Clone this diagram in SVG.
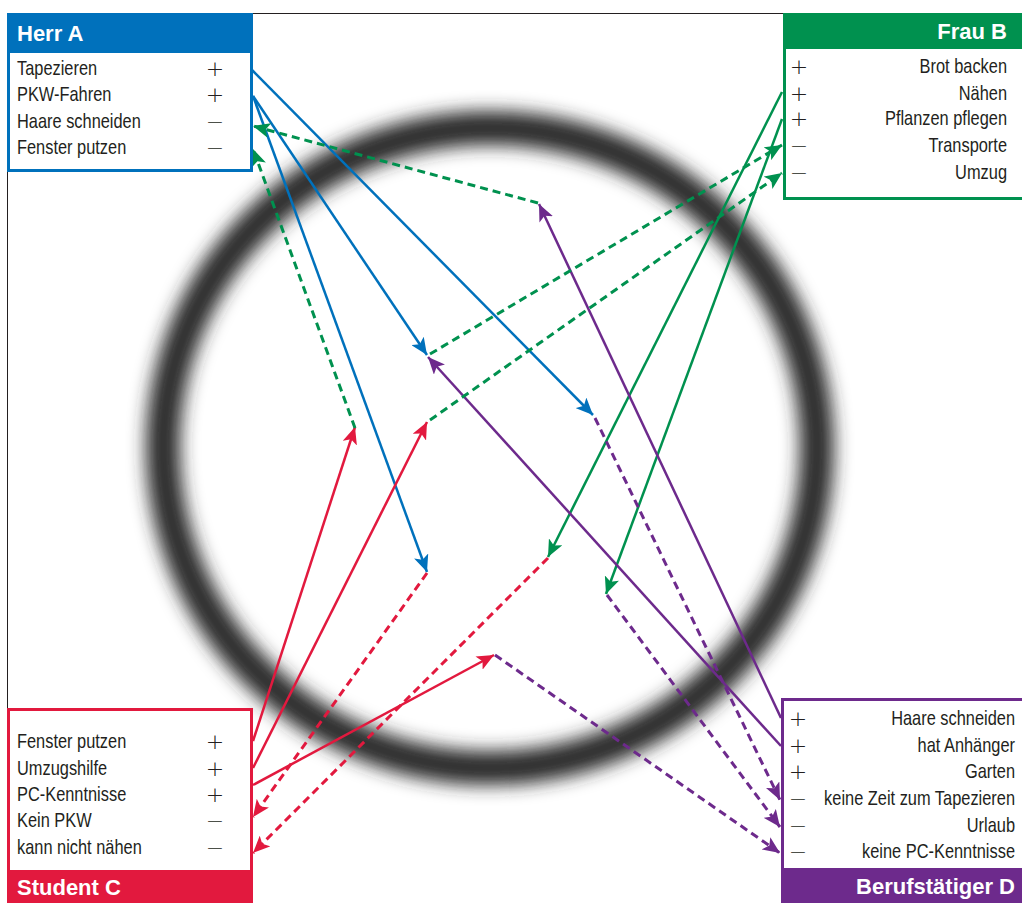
<svg xmlns="http://www.w3.org/2000/svg" width="1022" height="903" viewBox="0 0 1022 903">
<style>
.t{font-family:"Liberation Sans",Arial,sans-serif;font-size:20px;fill:#231f20}
.r{text-anchor:end}
.pm{text-anchor:middle;font-size:22px;font-family:"DejaVu Sans","Liberation Sans",sans-serif;font-weight:200;fill:#231f20}
.h{font-family:"Liberation Sans",Arial,sans-serif;font-size:22px;font-weight:bold;fill:#fff}
.s{fill:none;stroke-width:2.5}
.d{fill:none;stroke-width:3;stroke-dasharray:8 5}
.blue{stroke:#0071bc}.green{stroke:#00914f}.red{stroke:#e2193e}.purple{stroke:#6d2a8c}
</style>
<defs>
<filter id="blur" x="-20%" y="-20%" width="140%" height="140%"><feGaussianBlur stdDeviation="9"/></filter>
<marker id="aB" markerUnits="userSpaceOnUse" markerWidth="18" markerHeight="15" refX="17" refY="7.5" orient="auto"><path d="M0,0 L17,7.5 L0,15 L4,7.5 z" fill="#0071bc"/></marker>
<marker id="aG" markerUnits="userSpaceOnUse" markerWidth="18" markerHeight="15" refX="17" refY="7.5" orient="auto"><path d="M0,0 L17,7.5 L0,15 L4,7.5 z" fill="#00914f"/></marker>
<marker id="aR" markerUnits="userSpaceOnUse" markerWidth="18" markerHeight="15" refX="17" refY="7.5" orient="auto"><path d="M0,0 L17,7.5 L0,15 L4,7.5 z" fill="#e2193e"/></marker>
<marker id="aP" markerUnits="userSpaceOnUse" markerWidth="18" markerHeight="15" refX="17" refY="7.5" orient="auto"><path d="M0,0 L17,7.5 L0,15 L4,7.5 z" fill="#6d2a8c"/></marker>
</defs>
<rect width="1022" height="903" fill="#fff"/>
<rect x="7.5" y="13.5" width="1020" height="900" fill="none" stroke="#231f20" stroke-width="1"/>
<ellipse cx="490" cy="448" rx="327" ry="320" fill="none" stroke="#2a2a2a" stroke-width="34" filter="url(#blur)"/>

<g id="connectors">
<line class="s blue" x1="252" y1="70" x2="593" y2="415" marker-end="url(#aB)"/>
<line class="s blue" x1="253" y1="96" x2="427" y2="355" marker-end="url(#aB)"/>
<line class="s blue" x1="253" y1="96" x2="427" y2="572" marker-end="url(#aB)"/>
<line class="s green" x1="782" y1="92" x2="548" y2="557" marker-end="url(#aG)"/>
<line class="s green" x1="782" y1="119" x2="606" y2="594" marker-end="url(#aG)"/>
<line class="s purple" x1="781" y1="718" x2="539" y2="204" marker-end="url(#aP)"/>
<line class="s purple" x1="781" y1="746" x2="428" y2="357" marker-end="url(#aP)"/>
<line class="s red" x1="253" y1="741" x2="355" y2="427" marker-end="url(#aR)"/>
<line class="s red" x1="253" y1="768" x2="427" y2="422" marker-end="url(#aR)"/>
<line class="s red" x1="253" y1="785" x2="494" y2="655" marker-end="url(#aR)"/>
<line class="d green" x1="430" y1="354" x2="782" y2="145" marker-end="url(#aG)"/>
<line class="d green" x1="430" y1="420" x2="782" y2="173" marker-end="url(#aG)"/>
<line class="d green" x1="538" y1="203" x2="253" y2="126" marker-end="url(#aG)"/>
<line class="d green" x1="355" y1="428" x2="253" y2="149" marker-end="url(#aG)"/>
<line class="d red" x1="427" y1="573" x2="253" y2="817" marker-end="url(#aR)"/>
<line class="d red" x1="548" y1="558" x2="253" y2="853" marker-end="url(#aR)"/>
<line class="d purple" x1="595" y1="418" x2="780" y2="800" marker-end="url(#aP)"/>
<line class="d purple" x1="607" y1="595" x2="780" y2="827" marker-end="url(#aP)"/>
<line class="d purple" x1="495" y1="655" x2="780" y2="853" marker-end="url(#aP)"/>
</g>

<g id="herr-a">
<rect x="8.5" y="14.5" width="243" height="156" fill="#fff" stroke="#0071bc" stroke-width="3"/>
<rect x="7" y="13" width="246" height="40" fill="#0071bc"/>
<text class="h" x="17" y="41">Herr A</text>
<text class="t" transform="translate(17,75) scale(0.82,1)">Tapezieren</text><text class="pm" x="215" y="76">+</text>
<text class="t" transform="translate(17,101) scale(0.82,1)">PKW-Fahren</text><text class="pm" x="215" y="102">+</text>
<text class="t" transform="translate(17,128) scale(0.82,1)">Haare schneiden</text><text class="pm" x="215" y="129">−</text>
<text class="t" transform="translate(17,154) scale(0.82,1)">Fenster putzen</text><text class="pm" x="215" y="155">−</text>
</g>

<g id="frau-b">
<rect x="784.5" y="14.5" width="245" height="184" fill="#fff" stroke="#00914f" stroke-width="3"/>
<rect x="783" y="13" width="245" height="36" fill="#00914f"/>
<text class="h r" x="1007" y="39">Frau B</text>
<text class="pm" x="799" y="74">+</text><text class="t r" transform="translate(1007,73) scale(0.82,1)">Brot backen</text>
<text class="pm" x="799" y="101">+</text><text class="t r" transform="translate(1007,100) scale(0.82,1)">Nähen</text>
<text class="pm" x="799" y="126">+</text><text class="t r" transform="translate(1007,125) scale(0.82,1)">Pflanzen pflegen</text>
<text class="pm" x="799" y="153">−</text><text class="t r" transform="translate(1007,152) scale(0.82,1)">Transporte</text>
<text class="pm" x="799" y="180">−</text><text class="t r" transform="translate(1007,179) scale(0.82,1)">Umzug</text>
</g>

<g id="student-c">
<rect x="8.5" y="709.5" width="243" height="200" fill="#fff" stroke="#e2193e" stroke-width="3"/>
<rect x="7" y="870" width="246" height="40" fill="#e2193e"/>
<text class="h" x="17" y="895">Student C</text>
<text class="t" transform="translate(17,748) scale(0.82,1)">Fenster putzen</text><text class="pm" x="215" y="749">+</text>
<text class="t" transform="translate(17,775) scale(0.82,1)">Umzugshilfe</text><text class="pm" x="215" y="776">+</text>
<text class="t" transform="translate(17,801) scale(0.82,1)">PC-Kenntnisse</text><text class="pm" x="215" y="802">+</text>
<text class="t" transform="translate(17,827) scale(0.82,1)">Kein PKW</text><text class="pm" x="215" y="828">−</text>
<text class="t" transform="translate(17,854) scale(0.82,1)">kann nicht nähen</text><text class="pm" x="215" y="855">−</text>
</g>

<g id="berufstaetiger-d">
<rect x="782.5" y="699.5" width="245" height="210" fill="#fff" stroke="#6d2a8c" stroke-width="3"/>
<rect x="781" y="868" width="245" height="40" fill="#6d2a8c"/>
<text class="h r" x="1015" y="894">Berufstätiger D</text>
<text class="pm" x="798" y="726">+</text><text class="t r" transform="translate(1015,725) scale(0.82,1)">Haare schneiden</text>
<text class="pm" x="798" y="753">+</text><text class="t r" transform="translate(1015,752) scale(0.82,1)">hat Anhänger</text>
<text class="pm" x="798" y="779">+</text><text class="t r" transform="translate(1015,778) scale(0.82,1)">Garten</text>
<text class="pm" x="798" y="806">−</text><text class="t r" transform="translate(1015,805) scale(0.82,1)">keine Zeit zum Tapezieren</text>
<text class="pm" x="798" y="833">−</text><text class="t r" transform="translate(1015,832) scale(0.82,1)">Urlaub</text>
<text class="pm" x="798" y="859">−</text><text class="t r" transform="translate(1015,858) scale(0.82,1)">keine PC-Kenntnisse</text>
</g>
</svg>
